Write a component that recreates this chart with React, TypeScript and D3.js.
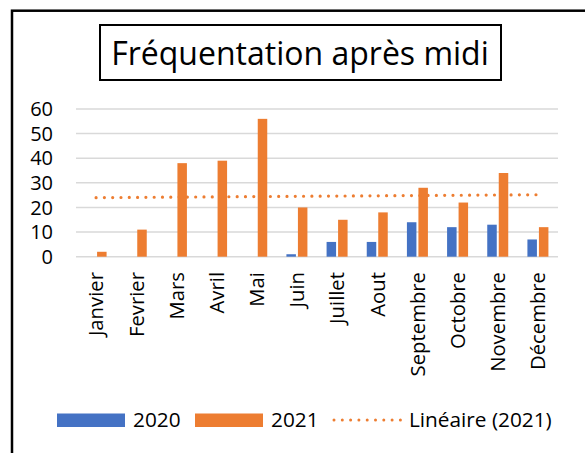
import React from "react";
import * as d3 from "d3";

const months = ["Janvier","Fevrier","Mars","Avril","Mai","Juin","Juillet","Aout","Septembre","Octobre","Novembre","Décembre"];
const values2020 = [0,0,0,0,0,1,6,6,14,12,13,7];
const values2021 = [2,11,38,39,56,20,15,18,28,22,34,12];
const yTicks = [0,10,20,30,40,50,60];
const seriesNames = ["2020","2021"];
const trendLabel = "Linéaire (2021)";
const title = "Fréquentation après midi";

const BLUE = "#4472C4";
const ORANGE = "#ED7D31";
const FONT = "'Open Sans', sans-serif";

export default function App() {
  const W = 585, H = 453;
  const left = 76, right = 558, top = 109, bottom = 256.7;

  const x = d3.scaleBand<string>().domain(months).range([left, right]).paddingInner(0).paddingOuter(0);
  const y = d3.scaleLinear().domain([0, 60]).range([bottom, top]);
  const bw = x.bandwidth();
  const barW = 9.5;
  const gap = 2;

  // linear regression for trendline (2021)
  const n = values2021.length;
  const xs = d3.range(1, n + 1);
  const mx = d3.mean(xs)!;
  const my = d3.mean(values2021)!;
  const sxy = d3.sum(xs.map((xi, i) => (xi - mx) * (values2021[i] - my)));
  const sxx = d3.sum(xs.map((xi) => (xi - mx) ** 2));
  const slope = sxy / sxx;
  const icpt = my - slope * mx;
  const trendPts: [number, number][] = months.map((m, i) => [x(m)! + bw / 2, y(icpt + slope * (i + 1))]);
  const line = d3.line();

  return (
    <svg width={W} height={H} style={{ position: "absolute", left: 0, top: 0, background: "#fff" }}>
      <rect x={0} y={0} width={W} height={H} fill="#fff" />
      <rect x={12} y={10.7} width={700} height={600} fill="none" stroke="#000" strokeWidth={2.5} />
      <rect x={100} y={25} width={401} height={55} fill="none" stroke="#000" strokeWidth={2} />
      <text x={300} y={65} textAnchor="middle" fontFamily={FONT} fontSize={32} fill="#000">{title}</text>

      {yTicks.map((t) => (
        <g key={t}>
          <line x1={left} x2={right} y1={y(t)} y2={y(t)} stroke="#D9D9D9" strokeWidth={1.5} />
          <text x={53} y={y(t)} dy="0.36em" textAnchor="end" fontFamily={FONT} fontSize={20} fill="#000">{t}</text>
        </g>
      ))}

      {months.map((m, i) => {
        const cx = x(m)! + bw / 2;
        return (
          <g key={m}>
            {values2020[i] > 0 && (
              <rect x={cx - gap / 2 - barW} y={y(values2020[i])} width={barW} height={y(0) - y(values2020[i])} fill={BLUE} />
            )}
            {values2021[i] > 0 && (
              <rect x={cx + gap / 2} y={y(values2021[i])} width={barW} height={y(0) - y(values2021[i])} fill={ORANGE} />
            )}
            <text transform={`translate(${cx},272) rotate(-90)`} dy="0.36em" textAnchor="end" fontFamily={FONT} fontSize={20.3} fill="#000">{m}</text>
          </g>
        );
      })}

      <path d={line(trendPts)!} fill="none" stroke={ORANGE} strokeWidth={3.2} strokeLinecap="round" strokeDasharray="0 8.3" />

      <g fontFamily={FONT} fontSize={20.8} fill="#000">
        <rect x={57} y={413.5} width={68} height={13.5} fill={BLUE} />
        <text x={133} y={420} dy="0.36em">{seriesNames[0]}</text>
        <rect x={195} y={413.5} width={68} height={13.5} fill={ORANGE} />
        <text x={271} y={420} dy="0.36em">{seriesNames[1]}</text>
        <line x1={334} x2={401} y1={420} y2={420} stroke={ORANGE} strokeWidth={3} strokeLinecap="round" strokeDasharray="0 8.3" />
        <text x={409} y={420} dy="0.36em">{trendLabel}</text>
      </g>
    </svg>
  );
}
